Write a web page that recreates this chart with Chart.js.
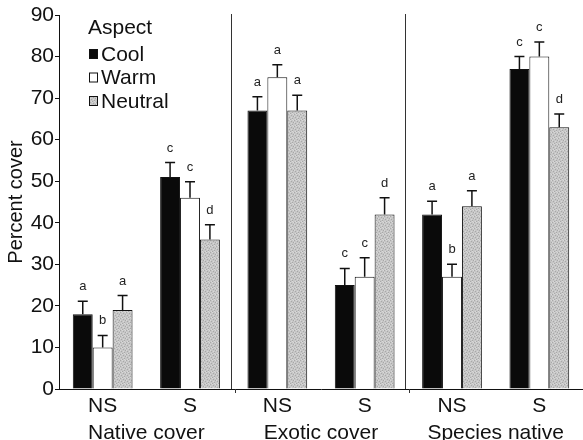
<!DOCTYPE html>
<html>
<head>
<meta charset="utf-8">
<script src="https://cdn.jsdelivr.net/npm/chart.js@4.4.1/dist/chart.umd.min.js"></script>
<style>
  html, body { margin: 0; padding: 0; background: #fff; }
  #wrap { width: 583px; height: 440px; }
</style>
</head>
<body>
<div id="wrap"><canvas id="chart" width="583" height="440"></canvas></div>
<script>
// Valores
const categories = ['NS', 'S', 'NS', 'S', 'NS', 'S'];
const groups = ['Native cover', 'Exotic cover', 'Species native'];
const seriesNames = ['Cool', 'Warm', 'Neutral'];

const cool = [18, 51, 67, 25, 42, 77];
const coolErr = [21.1, 54.5, 70.3, 29, 45.2, 80];
const coolLetters = ['a', 'c', 'a', 'c', 'a', 'c'];

const warm = [10, 46, 75, 27, 27, 80];
const warmErr = [12.9, 49.9, 78, 31.6, 30, 83.5];
const warmLetters = ['b', 'c', 'a', 'c', 'b', 'c'];

const neutral = [19, 36, 67, 42, 44, 63];
const neutralErr = [22.5, 39.5, 70.7, 46, 47.7, 66.2];
const neutralLetters = ['a', 'd', 'a', 'd', 'a', 'd'];

const FONT = '"Liberation Sans", Arial, Helvetica, sans-serif';

// Textura pontilhada para a série Neutral (padrão fixo)
function stipple() {
    const c = document.createElement('canvas');
    c.width = 6; c.height = 6;
    const g = c.getContext('2d');
    g.fillStyle = '#c6c6c6';
    g.fillRect(0, 0, 6, 6);
    g.fillStyle = '#a8a8a8';
    [[0, 0], [3, 1], [1, 3], [4, 4], [5, 2], [2, 5]].forEach(p => g.fillRect(p[0], p[1], 1, 1));
    g.fillStyle = '#d8d8d8';
    [[2, 0], [5, 0], [0, 2], [3, 3], [1, 5], [4, 5]].forEach(p => g.fillRect(p[0], p[1], 1, 1));
    return g.createPattern(c, 'repeat');
}

// Barras de erro, letras, separadores e legenda
const extras = {
    id: 'extras',
    afterDatasetsDraw(chart) {
        const ctx = chart.ctx;
        const y = chart.scales.y;
        const x = chart.scales.x;
        const area = chart.chartArea;
        ctx.save();
        chart.data.datasets.forEach((ds, i) => {
            const meta = chart.getDatasetMeta(i);
            meta.data.forEach((bar, j) => {
                const yTop = y.getPixelForValue(ds.data[j]);
                const yErr = y.getPixelForValue(ds.errors[j]);
                ctx.strokeStyle = '#111';
                ctx.lineWidth = 1.5;
                ctx.beginPath();
                ctx.moveTo(bar.x, yTop);
                ctx.lineTo(bar.x, yErr);
                ctx.moveTo(bar.x - 5, yErr);
                ctx.lineTo(bar.x + 5, yErr);
                ctx.stroke();
                ctx.fillStyle = '#222';
                ctx.font = '13px ' + FONT;
                ctx.textAlign = 'center';
                ctx.textBaseline = 'alphabetic';
                ctx.fillText(ds.letters[j], bar.x, yErr - 11);
            });
        });

        // separadores entre os grupos
        ctx.strokeStyle = '#333';
        ctx.lineWidth = 1;
        [1, 3].forEach(k => {
            const px = Math.round((x.getPixelForValue(k) + x.getPixelForValue(k + 1)) / 2) - 2.5;
            ctx.beginPath();
            ctx.moveTo(px, area.top - 1);
            ctx.lineTo(px, area.bottom);
            ctx.moveTo(px + 4, area.bottom);
            ctx.lineTo(px + 4, area.bottom + 4);
            ctx.stroke();
        });

        // legenda
        ctx.fillStyle = '#111';
        ctx.font = '21px ' + FONT;
        ctx.textAlign = 'left';
        ctx.textBaseline = 'middle';
        ctx.fillText('Aspect', 88, 28);
        chart.data.datasets.forEach((ds, i) => {
            const cy = 54 + i * 23.5;
            ctx.fillStyle = ds.backgroundColor;
            ctx.fillRect(89, cy - 5, 9, 10);
            ctx.strokeStyle = '#111';
            ctx.lineWidth = 1;
            ctx.strokeRect(89.5, cy - 4.5, 8, 9);
            ctx.fillStyle = '#111';
            ctx.fillText(ds.label, 101, cy + 1);
        });
        ctx.restore();
    }
};

const ctxBar = document.getElementById('chart').getContext('2d');
const neutralFill = stipple();

new Chart(ctxBar, {
    type: 'bar',
    data: {
        labels: categories,
        datasets: [
            { label: seriesNames[0], data: cool, errors: coolErr, letters: coolLetters,
              backgroundColor: '#0a0a0a', borderColor: '#111', borderWidth: 1 },
            { label: seriesNames[1], data: warm, errors: warmErr, letters: warmLetters,
              backgroundColor: '#ffffff', borderColor: '#111', borderWidth: 1 },
            { label: seriesNames[2], data: neutral, errors: neutralErr, letters: neutralLetters,
              backgroundColor: neutralFill, borderColor: '#111', borderWidth: 1 }
        ]
    },
    options: {
        responsive: false,
        devicePixelRatio: 1,
        animation: false,
        categoryPercentage: 0.684,
        barPercentage: 1,
        layout: { padding: { top: 15, right: -2, left: 0, bottom: 0 } },
        plugins: { legend: { display: false }, tooltip: { enabled: false } },
        scales: {
            y: {
                min: 0, max: 90,
                ticks: { stepSize: 10, color: '#111', font: { size: 21, family: FONT }, padding: 1 },
                grid: { drawOnChartArea: false, tickLength: 4, tickColor: '#111' },
                border: { display: true, color: '#111', width: 1 },
                title: { display: true, text: 'Percent cover', color: '#111', font: { size: 20, family: FONT } },
                afterFit: s => { s.width = 59; }
            },
            x: {
                ticks: { color: '#111', font: { size: 21, family: FONT }, padding: -3 },
                grid: { display: false },
                border: { display: true, color: '#111', width: 1 },
                afterFit: s => { s.height = 28; }
            },
            groups: {
                type: 'category',
                position: 'bottom',
                labels: groups,
                offset: true,
                ticks: { color: '#111', font: { size: 21, family: FONT }, padding: -4 },
                grid: { display: false },
                border: { display: false },
                afterFit: s => { s.height = 23; }
            }
        }
    },
    plugins: [extras]
});
</script>
</body>
</html>
